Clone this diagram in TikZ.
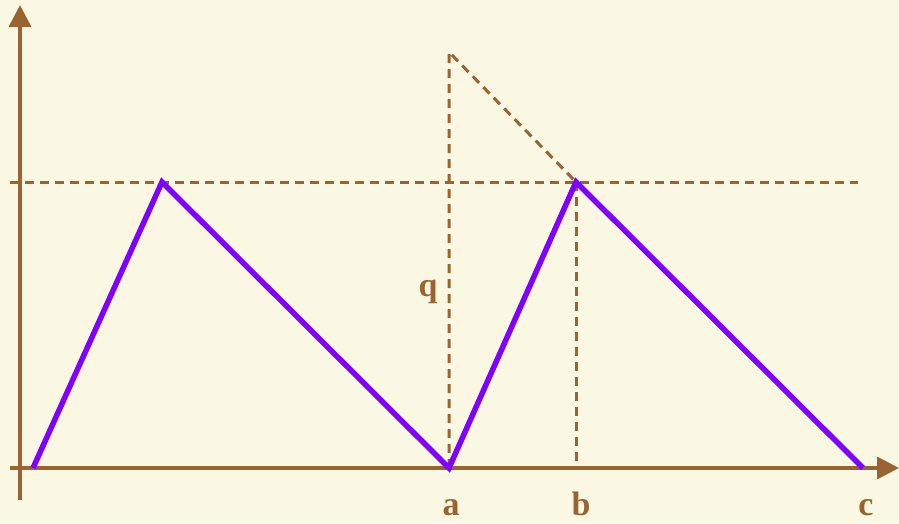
\documentclass[tikz,border=0pt]{standalone}
\usepackage{fontspec}
\setmainfont{TeX Gyre Heros}
\newfontfamily\labfont{Liberation Serif}
\usetikzlibrary{arrows.meta}
\definecolor{bgc}{HTML}{FAF8E2}
\definecolor{brn}{HTML}{9A6432}
\definecolor{prp}{HTML}{8000FF}
\begin{document}
\begin{tikzpicture}[x=1pt,y=-1pt,
  axis/.style={brn,line width=3.5pt,-{Triangle[length=22pt,width=22pt]}},
  guide/.style={brn,line width=3pt,dash pattern=on 9pt off 6pt},
  saw/.style={prp,line width=5.5pt,line join=miter},
  lab/.style={brn,font=\labfont\bfseries\fontsize{34}{34}\selectfont,inner sep=0pt}]
\fill[bgc] (0,0) rectangle (899,523);
\useasboundingbox (0,0) rectangle (899,523);
\coordinate (ybot) at (20,500);
\coordinate (ytop) at (20,5);
\coordinate (xl) at (10,468);
\coordinate (xr) at (899,468);
\coordinate (p0) at (33,468);
\coordinate (p1) at (162,182);
\coordinate (pa) at (449,468);
\coordinate (p3) at (576,182);
\coordinate (pc) at (863,468);
\coordinate (hl) at (10,182);
\coordinate (hr) at (858,182);
\coordinate (qt) at (449,52);
\coordinate (bb) at (576,468);
\draw[guide] (hl) -- (hr);
\draw[guide] (pa) -- (qt) -- (p3);
\draw[guide] (p3) -- (bb);
\draw[axis] (ybot) -- (ytop);
\draw[axis] (xl) -- (xr);
\draw[saw] (p0) -- (p1) -- (pa) -- (p3) -- (pc);
\node[lab,anchor=base] (q) at (428,296) {q};
\node[lab,anchor=base] (a) at (451,515) {a};
\node[lab,anchor=base] (b) at (581,515) {b};
\node[lab,anchor=base] (c) at (866,515) {c};
\end{tikzpicture}
\end{document}
